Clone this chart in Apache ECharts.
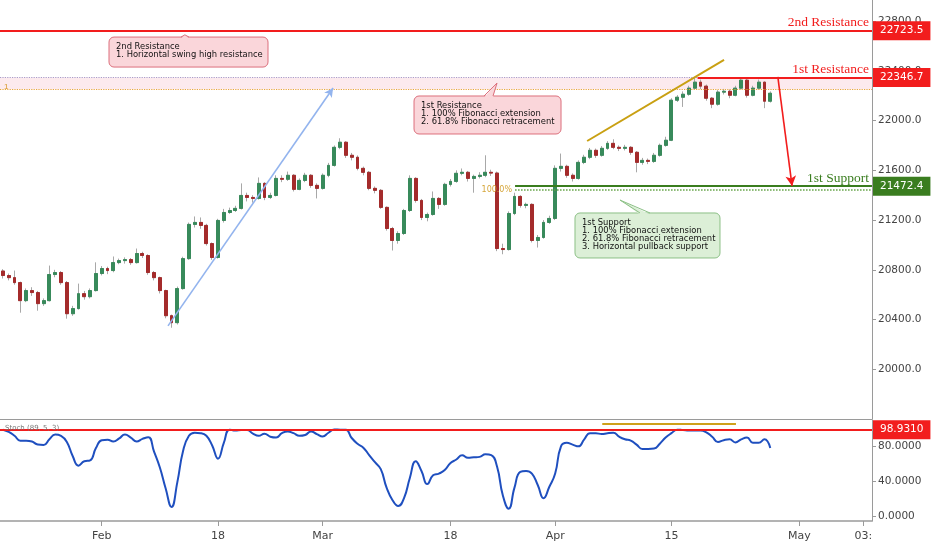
<!DOCTYPE html>
<html><head><meta charset="utf-8">
<script src="https://cdn.jsdelivr.net/npm/echarts@6/dist/echarts.min.js"></script>
<style>html,body{margin:0;padding:0;background:#fff}#c{width:932px;height:550px}</style>
</head><body><div id="c"></div>
<script>
// ---------- axis scaffolding ----------
const slotMin = -0.5, slotMax = 149.5;
const tickSlots = [17, 37, 55, 77, 95, 115, 137, 148];
const tickTexts = ['Feb', '18', 'Mar', '18', 'Apr', '15', 'May', '03:'];
const priceTicks = [20000, 20400, 20800, 21200, 21600, 22000, 22400, 22800];
const stochTicks = [0, 40, 80];

// ---------- candles: [open, close, low, high] ----------
const candles = [
[20790,20754,20730,20805],[20754,20737,20715,20770],[20737,20697,20680,20794],[20697,20552,20455,20705],
[20552,20633,20540,20650],[20633,20617,20590,20660],[20617,20528,20471,20630],[20528,20552,20510,20570],
[20552,20762,20545,20834],[20762,20778,20740,20800],[20778,20697,20680,20790],[20697,20447,20407,20710],
[20447,20488,20430,20510],[20488,20608,20480,20689],[20608,20584,20560,20630],[20584,20633,20570,20650],
[20633,20770,20625,20860],[20770,20810,20755,20830],[20810,20794,20765,20825],[20794,20858,20780,20907],
[20858,20874,20845,20890],[20874,20882,20850,20900],[20882,20858,20840,20895],[20858,20931,20850,20971],
[20931,20915,20895,20945],[20915,20778,20760,20925],[20778,20737,20715,20790],[20737,20633,20610,20745],
[20633,20431,20410,20640],[20431,20375,20334,20440],[20375,20649,20360,20665],[20649,20890,20640,20905],
[20890,21165,20880,21180],[21165,21181,21140,21229],[21181,21157,21130,21221],[21157,21011,20995,21170],
[21011,20899,20880,21020],[20899,21197,20890,21210],[21197,21261,21180,21290],[21261,21277,21250,21300],
[21277,21294,21265,21315],[21294,21398,21285,21495],[21398,21382,21350,21420],[21382,21374,21340,21400],
[21374,21495,21365,21543],[21495,21382,21360,21505],[21382,21398,21370,21420],[21398,21535,21390,21560],
[21535,21528,21505,21560],[21528,21560,21515,21590],[21560,21447,21430,21570],[21447,21519,21440,21535],
[21519,21560,21505,21580],[21560,21479,21460,21570],[21479,21455,21374,21495],[21455,21560,21445,21575],
[21560,21640,21545,21660],[21640,21785,21630,21800],[21785,21826,21770,21858],[21826,21721,21700,21835],
[21721,21705,21680,21740],[21705,21616,21600,21720],[21616,21584,21560,21630],[21584,21455,21440,21595],
[21455,21439,21415,21470],[21439,21302,21290,21450],[21302,21132,21115,21310],[21132,21036,20955,21145],
[21036,21092,21010,21110],[21092,21277,21080,21290],[21277,21535,21265,21560],[21535,21358,21340,21545],
[21358,21221,21200,21370],[21221,21245,21190,21260],[21245,21374,21235,21430],[21374,21326,21290,21385],
[21326,21487,21315,21500],[21487,21511,21470,21530],[21511,21576,21500,21600],[21576,21584,21560,21615],
[21584,21535,21510,21595],[21535,21551,21420,21565],[21551,21560,21535,21585],[21560,21584,21545,21721],
[21584,21578,21555,21605],[21578,20971,20950,21590],[20971,20963,20925,21010],[20963,21253,20955,21270],
[21253,21390,21240,21420],[21390,21318,21300,21400],[21318,21326,21295,21340],[21326,21036,21020,21335],
[21036,21060,20979,21080],[21060,21181,21050,21200],[21181,21213,21170,21235],[21213,21616,21200,21640],
[21616,21632,21590,21735],[21632,21560,21540,21645],[21560,21535,21510,21575],[21535,21664,21525,21680],
[21664,21705,21650,21725],[21705,21761,21690,21780],[21761,21721,21700,21775],[21721,21777,21710,21795],
[21777,21817,21765,21835],[21817,21785,21770,21850],[21785,21777,21755,21800],[21777,21785,21760,21805],
[21785,21745,21725,21795],[21745,21664,21584,21755],[21664,21680,21645,21700],[21680,21672,21650,21695],
[21672,21721,21660,21740],[21721,21801,21710,21815],[21801,21842,21790,21870],[21842,22164,21835,22180],
[22164,22188,22150,22205],[22188,22212,22110,22235],[22212,22261,22200,22280],[22261,22309,22250,22347],
[22309,22277,22255,22330],[22277,22180,22160,22290],[22180,22132,22100,22190],[22132,22229,22120,22245],
[22229,22236,22210,22255],[22236,22204,22180,22250],[22204,22261,22195,22280],[22261,22325,22250,22350],
[22325,22204,22185,22335],[22204,22261,22195,22280],[22261,22309,22250,22330],[22309,22156,22100,22315],
[22156,22220,22145,22235]
];

// ---------- stochastic (89,5,3) ----------
const stoch = [
99,96.5,92,86.5,86.5,85.5,82,81.5,88,93.5,
92,85,69,58,63,64,78,87,87.5,85.5,
89,93.5,90,85.6,88.5,90.5,74,56,32,11,
39,75,92,95.5,95,92,81,66,84,99,
98,98.5,98.5,94.5,92,94.3,91,90,95,97,
95,92,93,97,94,91.3,95.5,99.2,99,98.9,
89.5,83,78.5,70,62,54,33,19,12,21,
44,63,52,37,47,49,53,61,65,69.8,
67,67.5,68,71,70,57,24,9,33,51,
52,49,36,21,34,49,80,84,82,80,
88,95,95,94,95,95.5,91,88,86.5,82,
77,77,77.5,83,90,95,99,98.5,98,98,
98,96,91,85,87,88,84.5,88,90,84,
84,88,78
];

// ---------- levels & drawn lines (data coordinates: [slot, value]) ----------
const R2 = 22723.5, R1 = 22346.7, S1 = 21472.4, fibLevel = 22253, S1dotted = 21444, stochLevel = 98.931;
const r1Start = 119.5, s1Start = 88.1;
const blueArrow = [[28.4, 20349], [56.8, 22262]];
const goldLine = [[100.5, 21836], [124.05, 22488]];
const redArrow = [[133.3, 22351], [135.75, 21475]];
const stochGold = [[103.1, 105.5], [126.1, 105.5]];

const callouts = [
  {lines: ['2nd Resistance', '1. Horizontal swing high resistance'], at: [18.25, 22672], size: [159, 30], tip: [31.3, 22690], base: [72, 80], theme: 'red'},
  {lines: ['1st Resistance', '1. 100% Fibonacci extension', '2. 61.8% Fibonacci retracement'], at: [70.72, 22198], size: [147, 38], tip: [85.0, 22302], base: [70, 79], theme: 'red'},
  {lines: ['1st Support', '1. 100% Fibonacci extension', '2. 61.8% Fibonacci retracement', '3. Horizontal pullback support'], at: [98.41, 21257], size: [145, 45], tip: [106.15, 21361], base: [65, 75], theme: 'green'}
];

const RED = '#f21d1d', GREEN = '#3a7d1f';
const candleRows = candles.map((r, i) => [i, r[0], r[1], r[2], r[3]]);
const bodyRows = candles.map((r, i) => [i, r[0], r[1], Math.min(r[0], r[1]), Math.max(r[0], r[1])]);
const stochRows = stoch.map((v, i) => [i, v]);

function tag(text, bg) {
  return {show: true, position: 'end', formatter: text, distance: 1, backgroundColor: bg, color: '#fff',
    padding: [4, 7, 3, 7], fontSize: 10.5, fontFamily: 'DejaVu Sans', lineHeight: 12};
}
function txt(text, col) {
  return {show: true, position: 'insideEndTop', formatter: text, color: col, fontFamily: 'Liberation Serif',
    fontSize: 13.5, distance: [3, 1]};
}
const none = 'rgba(0,0,0,0)';
const axisGray = '#9a9a9a';

const chart = echarts.init(document.getElementById('c'));
chart.setOption({
  animation: false,
  backgroundColor: '#fff',
  grid: [
    {left: 0, right: 60, top: 0, height: 419, outerBoundsMode: 'none'},
    {left: 0, right: 60, top: 420, height: 101, outerBoundsMode: 'none'}
  ],
  xAxis: [
    {type: 'value', gridIndex: 0, min: slotMin, max: slotMax, position: 'bottom',
      axisLine: {show: true, onZero: false, lineStyle: {color: axisGray}},
      axisTick: {show: false}, axisLabel: {show: false}, splitLine: {show: false}},
    {type: 'value', gridIndex: 1, min: slotMin, max: slotMax, position: 'bottom',
      axisLine: {show: true, onZero: false, lineStyle: {color: axisGray, width: 1.5}},
      axisTick: {show: true, customValues: tickSlots, length: 5, lineStyle: {color: axisGray}},
      axisLabel: {show: true, customValues: tickSlots, margin: 10, color: '#444', fontSize: 11, fontFamily: 'DejaVu Sans',
        formatter: v => tickTexts[tickSlots.indexOf(Math.round(v))] || ''},
      splitLine: {show: false}}
  ],
  yAxis: [
    {type: 'value', gridIndex: 0, position: 'right', min: 19600, max: 22970,
      axisLine: {show: true, onZero: false, lineStyle: {color: axisGray}},
      axisTick: {show: true, customValues: priceTicks, length: 4, lineStyle: {color: axisGray}},
      axisLabel: {show: true, customValues: priceTicks, margin: 6, color: '#444', fontSize: 10.5, fontFamily: 'DejaVu Sans',
        formatter: v => v.toFixed(1)},
      splitLine: {show: false}},
    {type: 'value', gridIndex: 1, position: 'right', min: -5, max: 110,
      axisLine: {show: true, onZero: false, lineStyle: {color: axisGray}},
      axisTick: {show: true, customValues: stochTicks, length: 4, lineStyle: {color: axisGray}},
      axisLabel: {show: true, customValues: stochTicks, margin: 6, color: '#444', fontSize: 10.5, fontFamily: 'DejaVu Sans',
        formatter: v => v.toFixed(4)},
      splitLine: {show: false}}
  ],
  series: [
    {
      name: 'wick', type: 'candlestick', xAxisIndex: 0, yAxisIndex: 0, data: candleRows,
      encode: {x: 0, y: [1, 2, 3, 4]}, barWidth: 3.4, silent: true, z: 2,
      itemStyle: {color: '#a8a8a8', color0: '#a8a8a8', borderColor: '#a8a8a8', borderColor0: '#a8a8a8', borderColorDoji: '#a8a8a8', borderWidth: 1}
    },
    {
      name: 'body', type: 'candlestick', xAxisIndex: 0, yAxisIndex: 0, data: bodyRows,
      encode: {x: 0, y: [1, 2, 3, 4]}, barWidth: 3.4, silent: true, z: 3,
      itemStyle: {color: '#388a5b', color0: '#a42b2b', borderColor: '#388a5b', borderColor0: '#a42b2b', borderColorDoji: '#555', borderWidth: 1},
      markArea: {silent: true, itemStyle: {color: 'rgba(243,168,184,0.24)'}, data: [[{yAxis: fibLevel}, {yAxis: R1}]]},
      markLine: {
        silent: true, symbol: ['none', 'none'], label: {show: false},
        data: [
          {yAxis: R2, lineStyle: {color: RED, width: 2, type: 'solid'}, label: tag(R2.toFixed(1), RED)},
          {yAxis: R2, lineStyle: {color: none, width: 1}, label: txt('2nd Resistance', RED)},
          {yAxis: R1, lineStyle: {color: '#a99cc9', width: 1.2, type: 'dotted'}, label: tag(R1.toFixed(1), RED)},
          [{coord: [r1Start, R1], lineStyle: {color: RED, width: 2, type: 'solid'}, label: txt('1st Resistance', RED)}, {coord: [slotMax, R1]}],
          {yAxis: fibLevel, lineStyle: {color: '#e8a63c', width: 1.2, type: 'dotted'},
            label: {show: true, position: 'insideStartTop', formatter: '1', color: '#d99a2b', fontSize: 8, distance: [4, -2]}},
          [{coord: [s1Start, S1dotted], lineStyle: {color: '#5fa041', width: 1.5, type: 'dotted'},
            label: {show: true, position: 'start', formatter: '100.0%', color: '#d6a63a', fontSize: 8, fontFamily: 'DejaVu Sans', distance: 3}}, {coord: [slotMax, S1dotted]}],
          [{coord: [s1Start, S1], lineStyle: {color: GREEN, width: 2, type: 'solid'}, label: txt('1st Support', GREEN)}, {coord: [slotMax, S1]}],
          {yAxis: S1, lineStyle: {color: none, width: 1}, label: tag(S1.toFixed(1), GREEN)},
          [{coord: blueArrow[0], symbol: 'none', lineStyle: {color: '#93b4ee', width: 1.6, type: 'solid'}},
           {coord: blueArrow[1], symbol: 'arrow', symbolSize: [7, 9]}],
          [{coord: goldLine[0], symbol: 'none', lineStyle: {color: '#c9a012', width: 2, type: 'solid'}},
           {coord: goldLine[1], symbol: 'none'}],
          [{coord: redArrow[0], symbol: 'none', lineStyle: {color: RED, width: 1.6, type: 'solid'}},
           {coord: redArrow[1], symbol: 'arrow', symbolSize: [8, 10]}]
        ]
      }
    },
    {
      name: 'Stoch', type: 'line', xAxisIndex: 1, yAxisIndex: 1, data: stochRows, smooth: 0.5,
      symbol: 'none', silent: true, z: 3, lineStyle: {color: '#1f4fbf', width: 2},
      markLine: {
        silent: true, symbol: ['none', 'none'], label: {show: false},
        data: [
          {yAxis: stochLevel, lineStyle: {color: RED, width: 2, type: 'solid'}, label: tag(stochLevel.toFixed(4), RED)},
          [{coord: stochGold[0], lineStyle: {color: '#cfa11b', width: 2, type: 'solid'}}, {coord: stochGold[1]}]
        ]
      }
    }
  ]
});

// ---------- callouts anchored in data coordinates ----------
const themes = {
  red: {fill: '#fad6da', stroke: '#dc6f7c'},
  green: {fill: '#dcefd7', stroke: '#8cc086'}
};
const g = [];
callouts.forEach(c => {
  const tl = chart.convertToPixel({gridIndex: 0}, c.at);
  const tip = chart.convertToPixel({gridIndex: 0}, c.tip);
  const th = themes[c.theme];
  const x = tl[0], y = tl[1], w = c.size[0], h = c.size[1];
  g.push({type: 'rect', z: 100, silent: true, shape: {x: x, y: y, width: w, height: h, r: 5}, style: {fill: th.fill, stroke: th.stroke, lineWidth: 1}});
  g.push({type: 'polygon', z: 101, silent: true, shape: {points: [[x + c.base[0], y + 1.5], tip, [x + c.base[1], y + 1.5]]}, style: {fill: th.fill}});
  g.push({type: 'polyline', z: 102, silent: true, shape: {points: [[x + c.base[0], y], tip, [x + c.base[1], y]]}, style: {stroke: th.stroke, lineWidth: 1, fill: null}});
  g.push({type: 'text', z: 103, silent: true, x: x + 7, y: y + 6,
    style: {text: c.lines.join('\n'), font: '8.4px "DejaVu Sans"', lineHeight: 8, fill: '#111', verticalAlign: 'top', align: 'left'}});
});
const sl = chart.convertToPixel({gridIndex: 1}, [slotMin, 110]);
g.push({type: 'text', z: 103, silent: true, x: sl[0] + 5, y: sl[1] + 8,
  style: {text: 'Stoch (89, 5, 3)', font: '7px "DejaVu Sans"', fill: '#777', verticalAlign: 'middle'}});
chart.setOption({graphic: g});
</script>
</body></html>
